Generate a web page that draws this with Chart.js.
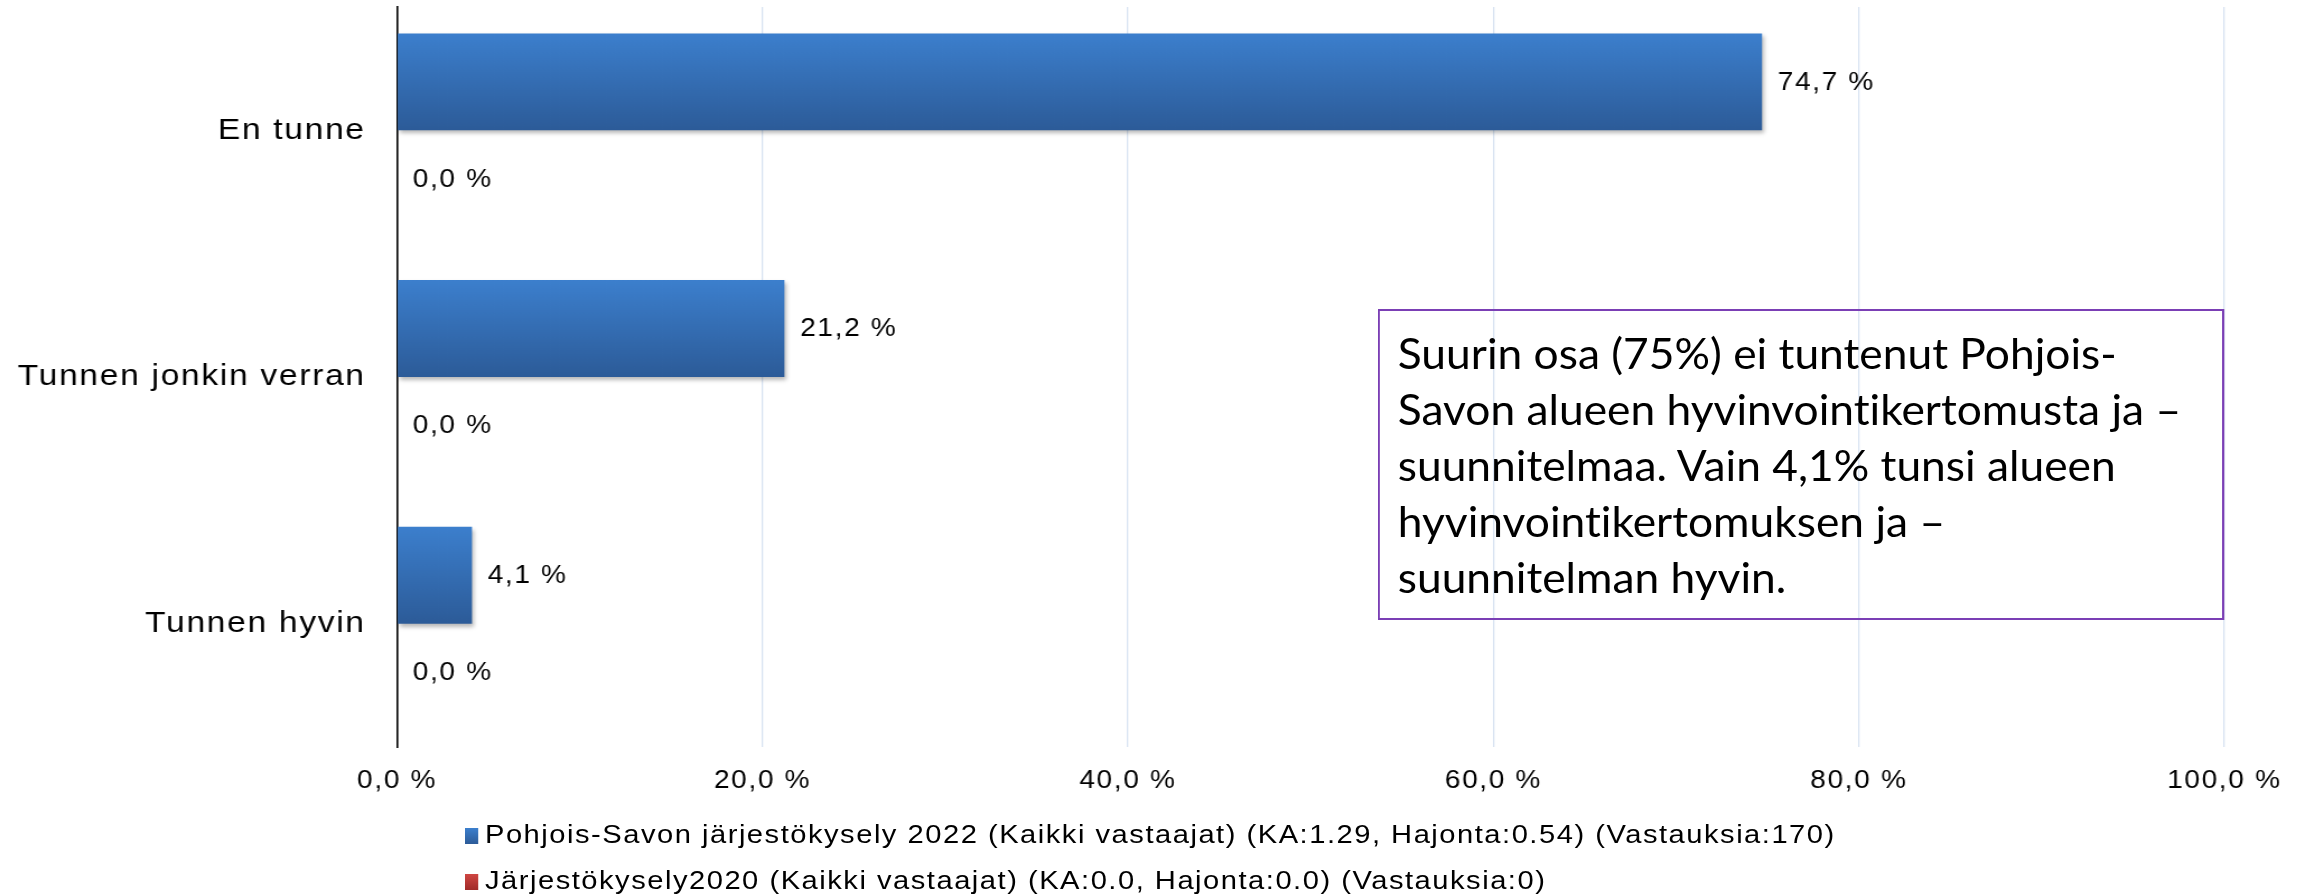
<!DOCTYPE html>
<html>
<head>
<meta charset="utf-8">
<script src="https://cdn.jsdelivr.net/npm/chart.js@4"></script>
<style>
  html, body { margin: 0; padding: 0; background: #fff; overflow: hidden; }
  #stage {
    position: relative; width: 2063px; height: 895px;
    transform: scaleX(1.12); transform-origin: 0 0;
  }
  #chartBox { position: absolute; left: 0; top: 0; width: 2063px; height: 895px; }
  .legendRow {
    position: absolute; left: 415px; height: 30px; line-height: 30px;
    font-family: "Liberation Sans", Arial, sans-serif; font-size: 26px;
    letter-spacing: 1.35px; color: #000; white-space: nowrap;
  }
  .legendRow .mark {
    display: inline-block; width: 12px; height: 16px; margin-right: 6px;
    vertical-align: -1px;
  }
  #note {
    position: absolute; left: 1230px; top: 309px; width: 756px; height: 311px;
    box-sizing: border-box; border: 2px solid #7b3fb5;
  }
  #noteText {
    position: absolute; left: 16px; top: 14px;
    transform: scaleX(0.92); transform-origin: 0 0;
    font-family: Lato, "Open Sans", sans-serif; font-size: 43px; line-height: 56px;
    font-variant-ligatures: none;
    color: #000; white-space: nowrap;
  }
</style>
</head>
<body>
<div id="stage">
  <div id="chartBox"><canvas id="barChart"></canvas></div>
  <div id="legend"></div>
  <div id="note"><div id="noteText">Suurin osa (75%) ei tuntenut Pohjois-<br>Savon alueen hyvinvointikertomusta ja –<br>suunnitelmaa. Vain 4,1% tunsi alueen<br>hyvinvointikertomuksen ja –<br>suunnitelman hyvin.</div></div>
</div>
<script>
// Chart data
const categories = ['En tunne', 'Tunnen jonkin verran', 'Tunnen hyvin'];
const seriesNames = [
    'Pohjois-Savon järjestökysely 2022 (Kaikki vastaajat) (KA:1.29, Hajonta:0.54) (Vastauksia:170)',
    'Järjestökysely2020 (Kaikki vastaajat) (KA:0.0, Hajonta:0.0) (Vastauksia:0)'
];
const values2022 = [74.7, 21.2, 4.1];
const values2020 = [0, 0, 0];
const xMin = 0;
const xMax = 100;
const xStep = 20;

const seriesColors = [['#3c7fcd', '#2c5b98'], ['#cf4642', '#a02a28']];
const catPct = 0.786;
const spacing = '1.5px';

function pct(v) {
    return v.toFixed(1).replace('.', ',') + ' %';
}

// gradient for each bar, taken from the category scale
function barFill(c) {
    const cols = seriesColors[c.datasetIndex];
    const chart = c.chart;
    const y = chart.scales.y;
    if (c.dataIndex === undefined || !y) return cols[0];
    const center = y.getPixelForValue(c.dataIndex);
    const band = (y.bottom - y.top) / categories.length;
    const th = band * catPct / 2;
    const top = c.datasetIndex === 0 ? center - th : center;
    if (!isFinite(top) || !isFinite(th) || th <= 0) return cols[0];
    const g = chart.ctx.createLinearGradient(0, top, 0, top + th);
    g.addColorStop(0, cols[0]);
    g.addColorStop(1, cols[1]);
    return g;
}

const spacingPlugin = {
    id: 'spacing',
    beforeUpdate(chart) { chart.ctx.letterSpacing = spacing; },
    beforeLayout(chart) { chart.ctx.letterSpacing = spacing; },
    beforeDraw(chart) { chart.ctx.letterSpacing = spacing; }
};

const labelPlugin = {
    id: 'valueLabels',
    beforeDatasetsDraw(chart) {
        const ctx = chart.ctx;
        ctx.save();
        ctx.shadowColor = 'rgba(0,0,0,0.28)';
        ctx.shadowBlur = 4;
        ctx.shadowOffsetX = 2;
        ctx.shadowOffsetY = 3;
    },
    afterDatasetsDraw(chart) {
        const ctx = chart.ctx;
        ctx.restore();
        ctx.save();
        ctx.letterSpacing = spacing;
        ctx.font = '25px "Liberation Sans", Arial, sans-serif';
        ctx.fillStyle = '#000';
        ctx.textAlign = 'left';
        ctx.textBaseline = 'middle';
        chart.data.datasets.forEach((ds, i) => {
            chart.getDatasetMeta(i).data.forEach((bar, j) => {
                ctx.fillText(pct(ds.data[j]), bar.x + 14, bar.y + 1);
            });
        });
        ctx.restore();
    }
};

Chart.defaults.color = '#000';
Chart.defaults.font.family = '"Liberation Sans", Arial, sans-serif';

new Chart(document.getElementById('barChart'), {
    type: 'bar',
    data: {
        labels: categories,
        datasets: [
            { label: seriesNames[0], data: values2022, backgroundColor: barFill },
            { label: seriesNames[1], data: values2020, backgroundColor: barFill }
        ]
    },
    options: {
        indexAxis: 'y',
        responsive: true,
        maintainAspectRatio: false,
        animation: false,
        categoryPercentage: catPct,
        barPercentage: 1,
        layout: { padding: { top: 7, right: 77, bottom: 0, left: 0 } },
        plugins: { legend: { display: false }, tooltip: { enabled: false } },
        scales: {
            x: {
                min: xMin,
                max: xMax,
                afterFit(scale) { scale.height = 148; },
                border: { display: false },
                grid: {
                    drawTicks: false,
                    color: c => (c.tick && c.tick.value === 0) ? 'rgba(0,0,0,0)' : '#d8e3f2',
                    lineWidth: 1.3
                },
                ticks: {
                    stepSize: xStep,
                    padding: 19,
                    font: { size: 25 },
                    callback: v => pct(v),
                    maxRotation: 0
                }
            },
            y: {
                afterFit(scale) {
                    scale.width = 354.5;
                    scale.paddingTop = 0;
                    scale.paddingBottom = 0;
                },
                border: { display: true, color: '#000', width: 1.6 },
                grid: { display: false, drawTicks: false },
                ticks: { padding: 28, font: { size: 30 } }
            }
        }
    },
    plugins: [spacingPlugin, labelPlugin]
});

// legend rows
const legendEl = document.getElementById('legend');
const rowTops = [819, 865];
seriesNames.forEach((name, i) => {
    const row = document.createElement('div');
    row.className = 'legendRow';
    row.style.top = rowTops[i] + 'px';
    const mark = document.createElement('span');
    mark.className = 'mark';
    mark.style.background = 'linear-gradient(' + seriesColors[i][0] + ',' + seriesColors[i][1] + ')';
    row.appendChild(mark);
    row.appendChild(document.createTextNode(name));
    legendEl.appendChild(row);
});
</script>
</body>
</html>
